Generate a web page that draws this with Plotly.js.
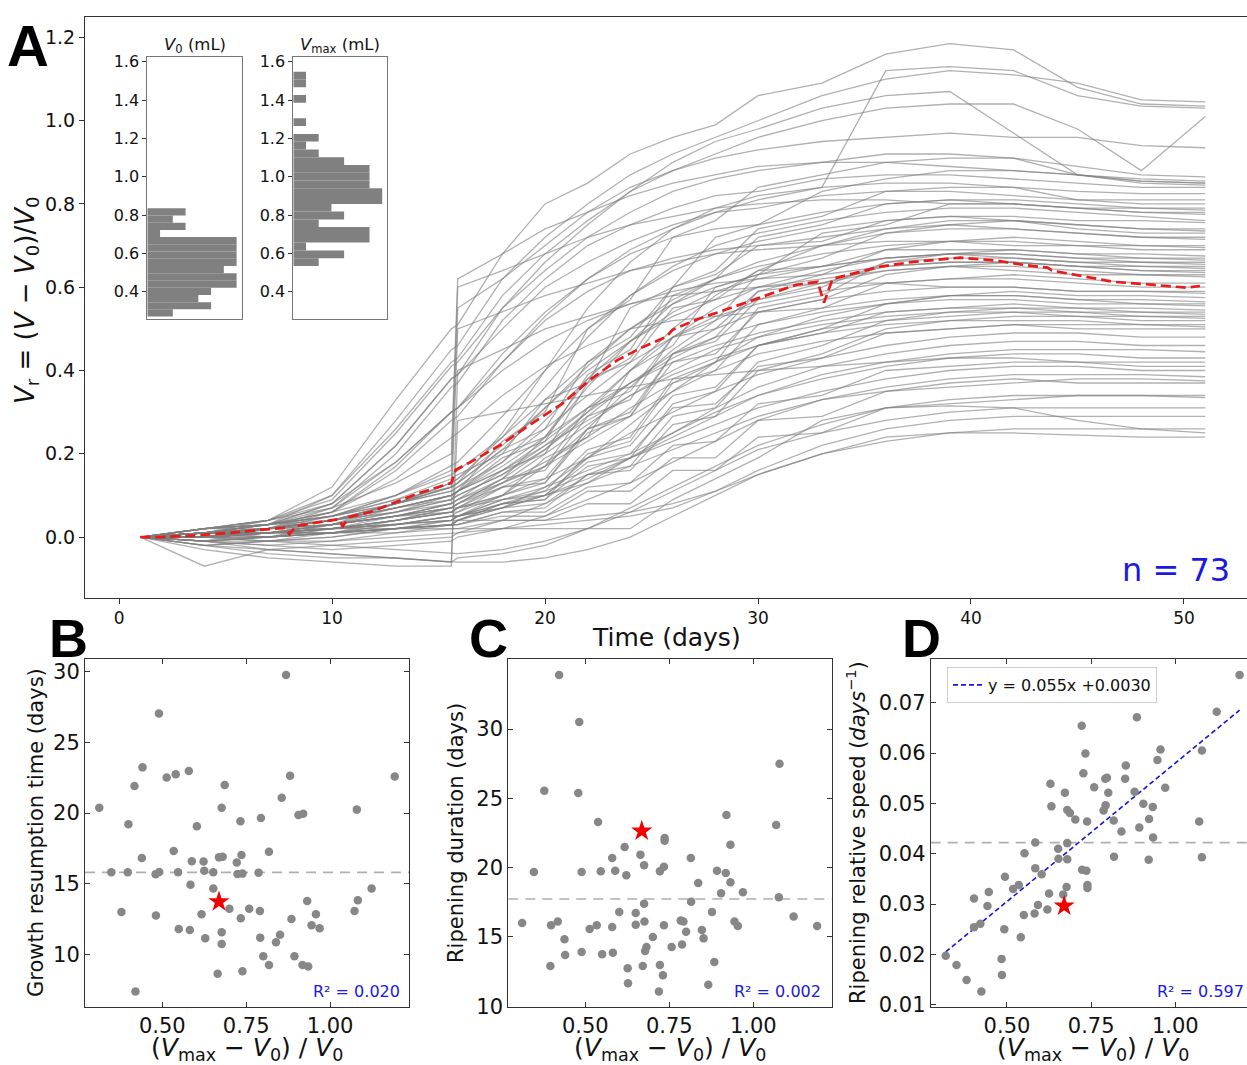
<!DOCTYPE html>
<html><head><meta charset="utf-8">
<script src="https://cdn.plot.ly/plotly-3.0.1.min.js"></script>
<style>html,body{margin:0;padding:0;background:#fff}#chart{width:1247px;height:1065px}</style>
</head><body><div id="chart"></div>
<script>
// ---------- Panel A data ----------
const days = [1,4,7,10,13,15.6,15.9,18,20,22,24,26,28,30,33,36,39,42,45,48,51];
const curves = [
[0,0.01,0.04,0.12,0.33,0.5,0.51,0.68,0.8,0.85,0.92,0.96,0.99,1.06,1.09,1.16,1.185,1.17,1.08,1.04,1.035],
[0,0.02,0.04,0.1,0.28,0.45,0.46,0.62,0.72,0.8,0.87,0.92,0.96,1.0,1.06,1.1,1.12,1.11,1.09,1.05,1.045],
[0,0.01,0.03,0.08,0.22,0.38,0.39,0.55,0.66,0.75,0.83,0.9,0.95,0.98,1.03,1.06,1.07,0.97,0.87,0.855,0.85],
[0,0.0,0.02,0.04,0.08,0.12,0.13,0.25,0.4,0.55,0.66,0.74,0.79,0.82,0.84,1.12,1.13,1.12,1.06,1.035,1.03],
[0,0.01,0.03,0.1,0.26,0.42,0.43,0.58,0.68,0.76,0.83,0.88,0.92,0.96,1.0,1.03,1.04,1.04,0.98,0.88,1.01],
[0,0.01,0.02,0.04,0.08,0.12,0.55,0.62,0.7,0.78,0.84,0.88,0.91,0.93,0.95,0.96,0.97,0.96,0.96,0.94,0.935],
[0,0.02,0.04,0.09,0.25,0.41,0.42,0.55,0.64,0.72,0.78,0.83,0.86,0.88,0.9,0.92,0.92,0.91,0.89,0.87,0.865],
[0,0.0,0.01,0.03,0.07,0.09,0.11,0.23,0.3,0.5,0.57,0.72,0.76,0.84,0.87,0.9,0.91,0.91,0.87,0.86,0.855],
[0,0.01,0.03,0.07,0.13,0.2,0.62,0.68,0.74,0.78,0.82,0.85,0.87,0.89,0.9,0.9,0.89,0.88,0.87,0.855,0.85],
[0,0.02,0.03,0.05,0.09,0.14,0.15,0.2,0.33,0.37,0.55,0.6,0.72,0.75,0.83,0.86,0.88,0.88,0.87,0.85,0.845],
[0,-0.01,0.02,0.07,0.2,0.36,0.37,0.52,0.62,0.7,0.75,0.79,0.82,0.83,0.86,0.87,0.87,0.86,0.85,0.84,0.84],
[0,0.01,0.02,0.06,0.16,0.28,0.29,0.42,0.53,0.62,0.69,0.74,0.78,0.81,0.84,0.85,0.85,0.84,0.83,0.825,0.825],
[0,0.0,0.02,0.04,0.07,0.1,0.11,0.19,0.23,0.39,0.45,0.6,0.64,0.74,0.77,0.83,0.84,0.84,0.81,0.81,0.81],
[0,0.02,0.03,0.08,0.22,0.38,0.39,0.5,0.6,0.66,0.71,0.75,0.78,0.79,0.82,0.83,0.83,0.82,0.81,0.8,0.8],
[0,0.01,0.02,0.05,0.1,0.16,0.6,0.64,0.68,0.72,0.75,0.77,0.79,0.8,0.81,0.81,0.8,0.8,0.79,0.79,0.79],
[0,0.0,0.01,0.03,0.05,0.08,0.09,0.16,0.2,0.37,0.43,0.58,0.62,0.72,0.75,0.8,0.81,0.81,0.8,0.79,0.785],
[0,0.02,0.04,0.07,0.18,0.3,0.31,0.44,0.54,0.62,0.68,0.72,0.74,0.75,0.78,0.8,0.81,0.8,0.79,0.78,0.78],
[0,0.01,0.01,0.02,0.04,0.06,0.07,0.1,0.19,0.24,0.4,0.46,0.6,0.63,0.73,0.75,0.8,0.8,0.79,0.78,0.775],
[0,-0.01,0.0,0.03,0.08,0.13,0.14,0.24,0.36,0.48,0.58,0.65,0.7,0.73,0.76,0.78,0.79,0.79,0.78,0.77,0.76],
[0,0.01,0.03,0.05,0.09,0.12,0.13,0.21,0.26,0.42,0.48,0.6,0.63,0.7,0.71,0.76,0.77,0.77,0.76,0.76,0.755],
[0,0.02,0.02,0.04,0.06,0.09,0.1,0.15,0.21,0.3,0.4,0.5,0.58,0.64,0.7,0.74,0.76,0.76,0.75,0.74,0.74],
[0,0.0,0.02,0.05,0.1,0.17,0.18,0.29,0.4,0.5,0.58,0.64,0.68,0.71,0.74,0.76,0.77,0.76,0.75,0.74,0.735],
[0,0.01,0.02,0.03,0.05,0.07,0.08,0.14,0.16,0.29,0.33,0.48,0.52,0.63,0.67,0.73,0.75,0.76,0.74,0.73,0.73],
[0,-0.02,-0.01,0.01,0.04,0.07,0.08,0.14,0.24,0.36,0.47,0.56,0.62,0.66,0.7,0.73,0.74,0.74,0.73,0.72,0.72],
[0,0.01,0.03,0.06,0.17,0.3,0.31,0.42,0.52,0.59,0.64,0.67,0.69,0.7,0.72,0.74,0.75,0.74,0.73,0.72,0.715],
[0,0.0,0.01,0.02,0.04,0.06,0.06,0.12,0.13,0.25,0.29,0.44,0.48,0.59,0.63,0.69,0.71,0.72,0.71,0.7,0.7],
[0,0.01,0.02,0.04,0.08,0.12,0.13,0.21,0.31,0.41,0.5,0.57,0.62,0.65,0.68,0.7,0.71,0.71,0.7,0.7,0.695],
[0,-0.01,0.0,0.02,0.05,0.08,0.5,0.54,0.58,0.61,0.64,0.66,0.68,0.69,0.7,0.71,0.71,0.7,0.7,0.69,0.69],
[0,0.02,0.03,0.05,0.08,0.11,0.12,0.2,0.24,0.38,0.42,0.55,0.57,0.64,0.65,0.69,0.69,0.69,0.68,0.68,0.675],
[0,0.0,0.01,0.03,0.06,0.1,0.11,0.18,0.28,0.38,0.47,0.54,0.59,0.62,0.65,0.67,0.68,0.68,0.67,0.67,0.67],
[0,0.01,0.01,0.02,0.03,0.05,0.05,0.09,0.11,0.21,0.24,0.38,0.42,0.55,0.58,0.66,0.68,0.69,0.68,0.67,0.665],
[0,0.0,0.02,0.04,0.07,0.1,0.11,0.16,0.23,0.31,0.4,0.48,0.55,0.6,0.64,0.67,0.68,0.68,0.67,0.66,0.66],
[0,-0.02,-0.01,0.0,0.02,0.04,0.05,0.1,0.13,0.26,0.3,0.44,0.47,0.57,0.6,0.66,0.67,0.67,0.66,0.66,0.655],
[0,0.01,0.03,0.06,0.1,0.15,0.16,0.24,0.33,0.42,0.5,0.56,0.6,0.63,0.65,0.67,0.68,0.67,0.66,0.65,0.65],
[0,0.0,0.01,0.02,0.04,0.06,0.07,0.13,0.17,0.31,0.35,0.48,0.5,0.59,0.61,0.65,0.66,0.66,0.65,0.65,0.645],
[0,0.02,0.04,0.08,0.18,0.3,0.31,0.4,0.47,0.52,0.56,0.59,0.61,0.62,0.63,0.65,0.66,0.66,0.65,0.64,0.64],
[0,0.01,0.02,0.03,0.05,0.07,0.07,0.12,0.14,0.26,0.29,0.42,0.44,0.54,0.57,0.63,0.65,0.66,0.65,0.64,0.635],
[0,-0.01,0.0,0.01,0.03,0.05,0.06,0.1,0.17,0.26,0.36,0.45,0.52,0.57,0.61,0.64,0.65,0.65,0.64,0.63,0.63],
[0,0.01,0.02,0.04,0.08,0.13,0.14,0.22,0.31,0.4,0.47,0.53,0.57,0.6,0.62,0.64,0.65,0.64,0.63,0.63,0.625],
[0,0.0,0.0,0.01,0.02,0.03,0.04,0.08,0.09,0.2,0.23,0.37,0.4,0.51,0.55,0.61,0.62,0.63,0.62,0.61,0.61],
[0,0.01,0.03,0.05,0.08,0.11,0.12,0.18,0.26,0.34,0.42,0.48,0.53,0.56,0.59,0.61,0.62,0.62,0.61,0.6,0.6],
[0,-0.03,-0.05,-0.06,-0.07,-0.07,0.4,0.45,0.5,0.53,0.56,0.58,0.59,0.6,0.61,0.61,0.6,0.6,0.59,0.59,0.59],
[0,0.0,0.01,0.03,0.05,0.08,0.09,0.14,0.21,0.29,0.37,0.44,0.5,0.54,0.57,0.59,0.6,0.6,0.59,0.59,0.585],
[0,0.01,0.02,0.02,0.03,0.04,0.05,0.08,0.09,0.17,0.19,0.32,0.35,0.46,0.5,0.56,0.58,0.59,0.58,0.58,0.575],
[0,0.02,0.03,0.06,0.14,0.24,0.25,0.34,0.41,0.46,0.5,0.52,0.53,0.54,0.55,0.57,0.58,0.58,0.57,0.57,0.565],
[0,-0.01,-0.02,-0.01,0.01,0.03,0.04,0.07,0.12,0.19,0.27,0.35,0.42,0.48,0.53,0.56,0.58,0.58,0.57,0.56,0.56],
[0,0.0,0.01,0.03,0.06,0.09,0.1,0.15,0.22,0.3,0.37,0.43,0.48,0.51,0.54,0.56,0.57,0.57,0.56,0.56,0.555],
[0,0.01,0.01,0.02,0.03,0.05,0.05,0.09,0.1,0.19,0.22,0.34,0.36,0.46,0.49,0.54,0.55,0.56,0.55,0.55,0.545],
[0,0.0,0.02,0.04,0.07,0.1,0.11,0.17,0.24,0.31,0.37,0.42,0.46,0.49,0.52,0.54,0.55,0.55,0.55,0.54,0.54],
[0,0.01,0.0,0.01,0.02,0.03,0.03,0.06,0.07,0.15,0.17,0.29,0.31,0.42,0.46,0.52,0.54,0.55,0.54,0.54,0.535],
[0,-0.01,0.0,0.02,0.04,0.07,0.08,0.13,0.2,0.27,0.34,0.4,0.45,0.48,0.51,0.53,0.54,0.54,0.54,0.53,0.53],
[0,0.02,0.03,0.04,0.06,0.08,0.09,0.13,0.18,0.24,0.31,0.37,0.42,0.46,0.5,0.52,0.53,0.54,0.53,0.53,0.525],
[0,0.0,0.01,0.01,0.02,0.03,0.04,0.07,0.08,0.15,0.16,0.27,0.29,0.4,0.44,0.5,0.52,0.53,0.53,0.52,0.52],
[0,0.01,0.02,0.04,0.07,0.1,0.11,0.16,0.22,0.28,0.34,0.39,0.43,0.46,0.49,0.51,0.52,0.52,0.52,0.51,0.51],
[0,0.0,-0.01,0.0,0.02,0.04,0.04,0.08,0.1,0.18,0.2,0.31,0.32,0.41,0.43,0.49,0.5,0.51,0.51,0.51,0.505],
[0,0.01,0.02,0.03,0.05,0.07,0.08,0.12,0.17,0.23,0.29,0.35,0.4,0.44,0.47,0.49,0.5,0.51,0.5,0.5,0.5],
[0,0.0,0.01,0.02,0.04,0.06,0.07,0.1,0.14,0.19,0.25,0.3,0.35,0.39,0.43,0.46,0.48,0.49,0.49,0.48,0.48],
[0,-0.02,-0.03,-0.02,-0.01,0.0,0.01,0.04,0.08,0.13,0.19,0.25,0.31,0.36,0.41,0.44,0.46,0.47,0.47,0.46,0.46],
[0,0.01,0.01,0.02,0.03,0.04,0.05,0.07,0.1,0.14,0.19,0.24,0.29,0.34,0.39,0.42,0.44,0.45,0.45,0.45,0.445],
[0,0.0,0.02,0.03,0.05,0.06,0.07,0.09,0.12,0.16,0.2,0.25,0.3,0.34,0.38,0.41,0.43,0.44,0.44,0.43,0.43],
[0,-0.07,-0.03,-0.04,-0.05,-0.06,0.28,0.3,0.32,0.34,0.36,0.38,0.39,0.4,0.41,0.42,0.43,0.43,0.42,0.42,0.42],
[0,0.01,0.0,0.01,0.02,0.03,0.03,0.06,0.06,0.12,0.13,0.22,0.23,0.32,0.34,0.4,0.41,0.42,0.42,0.41,0.41],
[0,0.0,0.01,0.02,0.03,0.05,0.05,0.08,0.11,0.15,0.19,0.23,0.27,0.31,0.35,0.38,0.4,0.41,0.41,0.4,0.4],
[0,-0.01,-0.02,-0.03,-0.02,-0.01,0.0,0.02,0.05,0.09,0.13,0.18,0.23,0.28,0.33,0.36,0.38,0.39,0.39,0.39,0.385],
[0,0.01,0.01,0.02,0.02,0.03,0.03,0.05,0.05,0.11,0.11,0.19,0.19,0.28,0.29,0.35,0.36,0.37,0.38,0.38,0.375],
[0,0.0,0.01,0.01,0.03,0.04,0.05,0.07,0.1,0.13,0.17,0.21,0.25,0.29,0.33,0.35,0.37,0.38,0.37,0.37,0.37],
[0,-0.02,-0.04,-0.05,-0.05,-0.06,-0.05,-0.04,-0.02,0.02,0.07,0.12,0.17,0.22,0.27,0.31,0.33,0.34,0.34,0.34,0.34],
[0,0.0,0.0,0.01,0.01,0.02,0.02,0.04,0.04,0.08,0.08,0.16,0.16,0.24,0.25,0.31,0.32,0.33,0.34,0.34,0.335],
[0,-0.01,-0.01,-0.02,-0.03,-0.04,-0.04,-0.03,-0.01,0.02,0.06,0.11,0.16,0.21,0.25,0.28,0.3,0.31,0.31,0.31,0.31],
[0,0.0,-0.01,-0.01,0.0,0.01,0.01,0.02,0.03,0.04,0.05,0.07,0.11,0.16,0.22,0.26,0.28,0.29,0.29,0.29,0.29],
[0,-0.01,-0.03,-0.04,-0.05,-0.06,-0.06,-0.06,-0.05,-0.03,0.0,0.05,0.1,0.15,0.2,0.23,0.25,0.26,0.26,0.26,0.26],
[0,0.0,0.01,0.01,0.02,0.02,0.02,0.02,0.02,0.02,0.02,0.09,0.14,0.19,0.28,0.31,0.315,0.31,0.28,0.26,0.25],
[0,0.0,0.0,0.01,0.02,0.03,0.04,0.04,0.04,0.05,0.06,0.08,0.11,0.15,0.2,0.24,0.25,0.25,0.245,0.24,0.24]
];
const meanDays = [1,2,3.3,5.2,6.6,7.8,8.0,8.3,9.4,10.3,10.5,10.8,11.8,12.9,14.1,15.6,15.8,16.5,17.9,19.3,20.8,22.1,23.4,24.5,25.7,26.0,27.1,28.7,30.2,31.8,32.8,33.1,33.5,35.7,37.3,39.5,41.2,42.4,43.6,43.8,45.4,46.7,48.5,50.1,50.75];
const meanVals = [0,0,0.003,0.01,0.017,0.022,0.007,0.026,0.036,0.043,0.026,0.048,0.06,0.082,0.106,0.13,0.161,0.18,0.221,0.27,0.32,0.377,0.425,0.454,0.481,0.498,0.522,0.55,0.577,0.606,0.613,0.563,0.62,0.649,0.661,0.671,0.664,0.654,0.647,0.64,0.625,0.613,0.606,0.599,0.603];
const nLabel = 'n = 73';

// ---------- Inset histograms ----------
const v0Edges = [0.270,0.308,0.345,0.383,0.421,0.459,0.496,0.534,0.572,0.609,0.647,0.685,0.722,0.760,0.798,0.835];
const v0Counts = [2,5,4,5,7,7,6,7,7,7,7,1,3,2,3];
const vmaxEdges = [0.534,0.575,0.615,0.656,0.696,0.737,0.777,0.818,0.858,0.899,0.940,0.980,1.021,1.061,1.102,1.142,1.183,1.223,1.264,1.305,1.345,1.386,1.426,1.467,1.507,1.548];
const vmaxCounts = [2,4,1,6,6,2,4,3,7,7,6,6,6,4,2,1,2,0,1,0,0,1,0,1,1];

// ---------- Panel B ----------
const bX = [0.312,0.490,0.869,0.441,0.417,0.513,0.540,0.579,0.686,0.881,1.193,0.856,0.677,0.399,0.603,0.733,0.794,0.906,0.920,1.080,0.534,0.439,0.588,0.623,0.669,0.680,0.736,0.722,0.818,0.348,0.397,0.480,0.491,0.547,0.625,0.652,0.724,0.739,0.787,0.584,0.652,1.124,0.932,1.083,0.378,0.700,0.759,0.791,0.617,0.481,0.734,0.885,0.958,1.073,0.945,0.969,0.549,0.582,0.677,0.628,0.792,0.851,0.839,0.677,0.801,0.894,0.818,0.918,0.935,0.665,0.739,0.420];
const bY = [20.38,27.05,29.76,23.23,21.91,22.52,22.74,22.97,21.98,22.64,22.59,21.08,20.38,19.20,19.06,19.41,19.65,19.86,19.95,20.24,17.31,16.82,16.58,16.56,16.86,16.91,17.03,16.49,17.26,15.80,15.80,15.66,15.83,15.80,15.92,15.80,15.68,15.71,15.78,14.93,14.65,14.65,13.77,13.82,12.99,13.23,13.23,13.07,12.83,12.74,12.55,12.50,12.83,13.07,12.05,11.84,11.79,11.72,11.56,11.13,11.18,11.39,10.85,10.73,9.86,9.86,9.25,9.25,9.13,8.63,8.80,7.36];
const bStar = [0.669, 13.73];
const bMean = 15.8;
const bR2 = 'R² = 0.020';

// ---------- Panel C ----------
const cX = [0.422,0.482,0.378,0.479,1.078,0.538,0.920,1.068,0.617,0.736,0.736,0.932,0.580,0.664,0.814,0.675,0.734,0.347,0.489,0.546,0.589,0.622,0.722,0.892,0.918,0.836,0.932,0.904,0.969,1.076,0.815,0.675,0.601,0.650,0.877,1.120,0.312,0.398,0.418,0.513,0.534,0.580,0.650,0.676,0.734,0.784,0.792,0.800,0.847,0.944,0.954,1.190,0.438,0.701,0.852,0.682,0.757,0.788,0.678,0.489,0.440,0.550,0.582,0.884,0.396,0.671,0.722,0.626,0.731,0.627,0.866,0.719];
const cY = [33.89,30.50,25.55,25.38,27.50,23.29,23.80,23.08,21.49,22.14,21.95,21.66,20.70,20.94,20.70,20.17,20.07,19.69,19.69,19.74,19.78,19.45,19.74,19.78,19.62,18.89,18.94,18.15,18.22,17.86,17.55,17.40,16.80,16.73,16.80,16.47,16.01,15.84,16.11,15.58,15.84,15.72,15.89,16.11,15.84,16.18,16.11,15.38,15.50,16.11,15.79,15.79,14.83,15.00,14.90,14.28,14.28,14.45,13.99,13.92,13.70,13.75,13.87,13.20,12.91,12.91,12.98,12.74,12.24,11.66,11.56,11.06];
const cStar = [0.668, 22.64];
const cMean = 17.74;
const cR2 = 'R² = 0.002';

// ---------- Panel D ----------
const dX = [1.191,1.123,0.886,0.722,0.733,0.956,1.079,0.947,0.727,0.853,0.792,0.797,0.851,0.759,0.629,0.672,0.801,0.879,0.970,0.632,0.679,0.687,0.793,0.787,0.905,0.933,0.703,0.738,0.817,0.922,0.893,0.840,1.071,0.584,0.679,0.934,0.652,0.552,0.653,0.679,0.818,0.921,1.079,0.584,0.723,0.736,0.603,0.494,0.535,0.518,0.739,0.739,0.677,0.446,0.625,0.667,0.402,0.442,0.592,0.620,0.550,0.582,0.421,0.402,0.492,0.541,0.318,0.484,0.350,0.485,0.380,0.424];
const dY = [0.0755,0.0682,0.0671,0.0654,0.0599,0.0607,0.0605,0.0586,0.0560,0.0575,0.0549,0.0551,0.0549,0.0532,0.0539,0.0521,0.0521,0.0523,0.0531,0.0494,0.0487,0.0481,0.0496,0.0486,0.0499,0.0493,0.0468,0.0464,0.0466,0.0469,0.0452,0.0444,0.0464,0.0422,0.0421,0.0432,0.0410,0.0401,0.0390,0.0389,0.0394,0.0388,0.0393,0.0371,0.0368,0.0366,0.0359,0.0354,0.0338,0.0330,0.0338,0.0332,0.0334,0.0324,0.0321,0.0319,0.0311,0.0296,0.0298,0.0289,0.0278,0.0281,0.0261,0.0254,0.0250,0.0234,0.0197,0.0191,0.0179,0.0159,0.0149,0.0126];
const dStar = [0.670, 0.0296];
const dMean = 0.0422;
const dSlope = 0.055, dIntercept = 0.0030;
const dFitLabel = 'y = 0.055x +0.0030';
const dR2 = 'R² = 0.597';

// ---------- Tick labels ----------
const aXTicks = [0,10,20,30,40,50];
const aYTicks = [0.0,0.2,0.4,0.6,0.8,1.0,1.2];
const insetTicks = [0.4,0.6,0.8,1.0,1.2,1.4,1.6];
const ratioTicks = [0.50,0.75,1.00];
const bTicks = [10,15,20,25,30];
const cTicks = [10,15,20,25,30];
const dTicks = [0.01,0.02,0.03,0.04,0.05,0.06,0.07];

// ================= drawing =================
const W = 1247, H = 1065;
const F = 'DejaVu Sans, Verdana, sans-serif';
const px = v => v / W;
const py = v => (H - v) / H;
const GRAY = 'rgb(135,135,135)';
const BLUE = 'rgb(25,25,225)';

const traces = [];
curves.forEach(c => traces.push({x: days, y: c, xaxis:'x', yaxis:'y', type:'scatter', mode:'lines',
  line:{color:'rgba(128,128,128,0.62)', width:1.3}, showlegend:false, hoverinfo:'skip'}));
traces.push({x: meanDays, y: meanVals, xaxis:'x', yaxis:'y', type:'scatter', mode:'lines',
  line:{color:'rgb(235,25,25)', width:2.7, dash:'10px,5px'}, showlegend:false});

function hist(edges, counts, xa, ya) {
  const yc = [], w = [];
  for (let i = 0; i < counts.length; i++) { yc.push((edges[i] + edges[i+1]) / 2); w.push(edges[i+1] - edges[i]); }
  return {type:'bar', orientation:'h', x: counts, y: yc, width: w, xaxis: xa, yaxis: ya,
    marker:{color:'rgb(128,128,128)', line:{width:0}}, showlegend:false};
}
traces.push(hist(v0Edges, v0Counts, 'x2', 'y2'));
traces.push(hist(vmaxEdges, vmaxCounts, 'x3', 'y3'));

function scat(x, y, xa, ya) {
  return {x, y, xaxis: xa, yaxis: ya, type:'scatter', mode:'markers',
    marker:{color:GRAY, size:8.5}, showlegend:false};
}
function star(s, xa, ya) {
  return {x:[s[0]], y:[s[1]], xaxis: xa, yaxis: ya, type:'scatter', mode:'markers',
    marker:{color:'rgb(240,0,0)', size:16, symbol:'star'}, showlegend:false};
}
traces.push(scat(bX, bY, 'x4', 'y4'), star(bStar, 'x4', 'y4'));
traces.push(scat(cX, cY, 'x5', 'y5'), star(cStar, 'x5', 'y5'));
const fitX = [Math.min(...dX), Math.max(...dX)];
traces.push({x: fitX, y: fitX.map(v => dSlope * v + dIntercept), xaxis:'x6', yaxis:'y6', type:'scatter', mode:'lines',
  line:{color:'rgb(20,20,220)', width:1.6, dash:'5px,3px'}, name: dFitLabel, showlegend:true});
traces.push(scat(dX, dY, 'x6', 'y6'), star(dStar, 'x6', 'y6'));

const base = {showgrid:false, zeroline:false, showline:true, linecolor:'#333', linewidth:1, mirror:true,
  ticks:'outside', ticklen:5, tickwidth:1, tickcolor:'#333', fixedrange:true};
const low = {ticks:'inside', mirror:'ticks', ticklen:5};
const tf = s => ({family:F, size:s, color:'#111'});

const yDomLow = [py(1007), py(659)];
const layout = {
  width: W, height: H, margin:{l:0, r:0, t:0, b:0}, paper_bgcolor:'#fff', plot_bgcolor:'#fff',
  font:{family:F, color:'#111'}, showlegend:true,
  legend:{x: px(947), y: py(667), xanchor:'left', yanchor:'top', bgcolor:'rgba(255,255,255,0.9)',
    bordercolor:'#cccccc', borderwidth:1, font:{family:F, size:16, color:'#111'}, itemwidth:30, tracegroupgap:0},
  xaxis: Object.assign({}, base, {domain:[px(85), 1], range:[-1.6, 52.96], anchor:'y', tickvals:aXTicks, tickfont:tf(17)}),
  yaxis: Object.assign({}, base, {domain:[py(598), py(17)], range:[-0.1464, 1.249], anchor:'x', tickvals:aYTicks, tickformat:'.1f', tickfont:tf(19), mirror:false}),
  xaxis2: Object.assign({}, base, {domain:[px(147.3), px(241.7)], range:[0, 7.4], anchor:'y2', showticklabels:false, ticks:'', linecolor:'#777'}),
  yaxis2: Object.assign({}, base, {domain:[py(318.7), py(56.7)], range:[0.259, 1.626], anchor:'x2', tickvals:insetTicks, tickformat:'.1f', tickfont:tf(16), linecolor:'#777', ticklen:4}),
  xaxis3: Object.assign({}, base, {domain:[px(293.3), px(387.3)], range:[0, 7.4], anchor:'y3', showticklabels:false, ticks:'', linecolor:'#777'}),
  yaxis3: Object.assign({}, base, {domain:[py(318.7), py(56.7)], range:[0.259, 1.626], anchor:'x3', tickvals:insetTicks, tickformat:'.1f', tickfont:tf(16), linecolor:'#777', ticklen:4}),
  xaxis4: Object.assign({}, base, low, {domain:[px(85), px(409)], range:[0.2695, 1.2355], anchor:'y4', tickvals:ratioTicks, tickformat:'.2f', tickfont:tf(21)}),
  yaxis4: Object.assign({}, base, low, {domain:yDomLow, range:[6.27, 30.9], anchor:'x4', tickvals:bTicks, tickfont:tf(21)}),
  xaxis5: Object.assign({}, base, low, {domain:[px(508.3), px(831.7)], range:[0.2708, 1.2333], anchor:'y5', tickvals:ratioTicks, tickformat:'.2f', tickfont:tf(21)}),
  yaxis5: Object.assign({}, base, low, {domain:yDomLow, range:[9.95, 35.05], anchor:'x5', tickvals:cTicks, tickfont:tf(21)}),
  xaxis6: Object.assign({}, base, low, {domain:[px(930.7), 1], range:[0.2734, 1.213], anchor:'y6', tickvals:ratioTicks, tickformat:'.2f', tickfont:tf(21)}),
  yaxis6: Object.assign({}, base, low, {domain:yDomLow, range:[0.00954, 0.07868], anchor:'x6', tickvals:dTicks, tickformat:'.2f', tickfont:tf(21), mirror:false}),
  shapes: [
    {type:'line', xref:'x4 domain', yref:'y4', x0:0, x1:1, y0:bMean, y1:bMean, layer:'below', line:{color:'rgb(175,175,175)', width:1.6, dash:'10px,7px'}},
    {type:'line', xref:'x5 domain', yref:'y5', x0:0, x1:1, y0:cMean, y1:cMean, layer:'below', line:{color:'rgb(175,175,175)', width:1.6, dash:'10px,7px'}},
    {type:'line', xref:'x6 domain', yref:'y6', x0:0, x1:1, y0:dMean, y1:dMean, layer:'below', line:{color:'rgb(175,175,175)', width:1.6, dash:'10px,7px'}}
  ],
  annotations: []
};

function ann(text, x, y, size, opts) {
  layout.annotations.push(Object.assign({text, x: px(x), y: py(y), xref:'paper', yref:'paper', showarrow:false,
    xanchor:'center', yanchor:'middle', font:{family:F, size, color:'#111'}}, opts || {}));
}
const LF = 'Liberation Sans, Arial, sans-serif';
ann('<b>A</b>', 28, 46, 58, {font:{family:LF, size:58, color:'#000'}});
ann('<b>B</b>', 68, 638, 54, {font:{family:LF, size:54, color:'#000'}});
ann('<b>C</b>', 488, 638, 54, {font:{family:LF, size:54, color:'#000'}});
ann('<b>D</b>', 921, 638, 54, {font:{family:LF, size:54, color:'#000'}});
ann('Time (days)', 667, 637, 25);
ann('<i>V</i><sub>r</sub> = (<i>V</i> − <i>V</i><sub>0</sub>)/<i>V</i><sub>0</sub>', 27, 300, 26, {textangle:-90});
ann(nLabel, 1176, 570, 32, {font:{family:F, size:32, color:BLUE}});
ann('<i>V</i><sub>0</sub> (mL)', 194.5, 46, 16.5);
ann('<i>V</i><sub>max</sub> (mL)', 340.3, 46, 16.5);
ann('Growth resumption time (days)', 36, 833, 21, {textangle:-90});
ann('Ripening duration (days)', 456, 833, 21, {textangle:-90});
ann('Ripening relative speed (<i>days</i><sup>−1</sup>)', 856, 833, 21, {textangle:-90});
const ratioTitle = '(<i>V</i><sub>max</sub> − <i>V</i><sub>0</sub>) / <i>V</i><sub>0</sub>';
ann(ratioTitle, 247, 1049, 25);
ann(ratioTitle, 670, 1049, 25);
ann(ratioTitle, 1093, 1049, 25);
ann(bR2, 402, 991, 16, {xanchor:'right', font:{family:F, size:16, color:BLUE}});
ann(cR2, 823, 991, 16, {xanchor:'right', font:{family:F, size:16, color:BLUE}});
ann(dR2, 1246, 991, 16, {xanchor:'right', font:{family:F, size:16, color:BLUE}});

Plotly.newPlot('chart', traces, layout, {staticPlot:true, displayModeBar:false});
</script>
</body></html>
